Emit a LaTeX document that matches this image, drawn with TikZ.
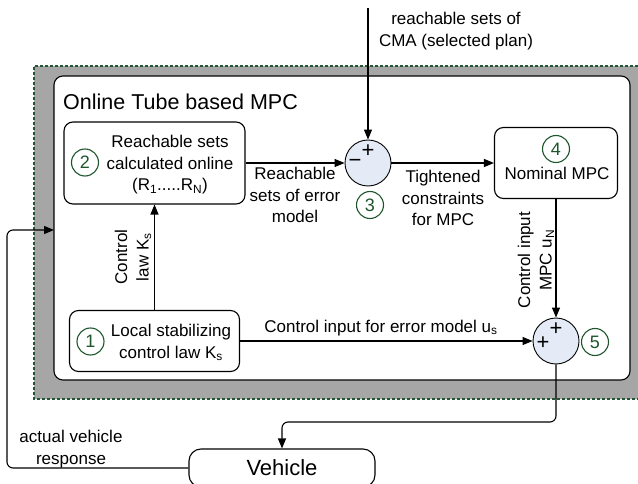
\documentclass[tikz,border=0pt]{standalone}
\usepackage{fontspec}
\setmainfont{Liberation Sans}
\usetikzlibrary{arrows.meta}
\definecolor{tubegray}{RGB}{166,166,166}
\definecolor{numgreen}{RGB}{30,85,45}
\definecolor{sumfill}{RGB}{228,235,247}
\definecolor{borderg}{RGB}{35,85,50}
\begin{document}
\begin{tikzpicture}[x=1pt,y=-1pt,
  txt/.style={font=\fontsize{17}{21.5}\selectfont, align=center, inner sep=0pt},
  blk/.style={draw, rounded corners=9pt, line width=1.1pt, inner sep=0pt},
  num/.style={draw=numgreen, text=numgreen, circle, line width=1.1pt, minimum size=27pt, inner sep=0pt, font=\fontsize{18}{20}\selectfont},
  sumnode/.style={draw, circle, fill=sumfill, minimum size=46pt, inner sep=0pt, line width=0.9pt},
  sign/.style={font=\fontsize{22}{24}\selectfont, inner sep=0pt},
  conn/.style={line width=1.1pt, -{Triangle[length=10pt,width=8pt]}},
  wire/.style={line width=1.1pt}
]
\useasboundingbox (0,0) rectangle (638,484);
% tube region
\fill[tubegray] (34,66) rectangle (648,399);
\draw[borderg, line width=1.6pt, dash pattern=on 3pt off 2pt] (648,66) -- (34,66) -- (34,399) -- (648,399);
\node[draw, fill=white, line width=1.1pt, rounded corners=9pt, minimum width=576pt, minimum height=304pt, inner sep=0pt] (inner) at (342,228) {};
\node[anchor=west, inner sep=0pt, font=\fontsize{21.5}{24}\selectfont] (title) at (63,102) {Online Tube based MPC};
% blocks
\node[blk, minimum width=181pt, minimum height=82pt] (b2) at (154.5,163) {};
\node[txt] (t2) at (170,165) {Reachable sets\\calculated online\\(R\textsubscript{1}.....R\textsubscript{N})};
\node[num] (n2) at (85,162.5) {2};
\node[blk, minimum width=123pt, minimum height=71pt] (b4) at (556,163) {};
\node[num] (n4) at (556,149) {4};
\node[txt] (t4) at (557,173) {Nominal MPC};
\node[blk, minimum width=170pt, minimum height=61pt] (b1) at (154.5,341) {};
\node[num] (n1) at (90.5,341.5) {1};
\node[txt] (t1) at (171,342.5) {Local stabilizing\\control law K\textsubscript{s}};
\node[blk, rounded corners=12pt, minimum width=186pt, minimum height=38pt, font=\fontsize{22}{24}\selectfont] (veh) at (282,468) {Vehicle};
% summing junctions
\node[sumnode] (s3) at (368,163) {};
\node[sign] (s3p) at (368,151) {+};
\node[sign] (s3m) at (355,163) {−};
\node[num] (n3) at (370,205) {3};
\node[sumnode] (s5) at (556,341) {};
\node[sign] (s5p) at (556,329) {+};
\node[sign] (s5q) at (543,343) {+};
\node[num] (n5) at (595,342) {5};
% connectors
\coordinate (topin) at (368,8);
\coordinate (fbin) at (54,230);
\draw[conn] (topin) -- (s3.north);
\draw[conn] (b2.east) -- (s3.west);
\draw[conn] (s3.east) -- (b4.west);
\draw[conn] (b4.south) -- (s5.north);
\draw[conn] (b1.north) -- (b2.south);
\draw[conn] (b1.east) -- (s5.west);
\draw[conn, rounded corners=6pt] (s5.south) -- (556,422) -- (282,422) -- (veh.north);
\draw[conn, rounded corners=6pt] (veh.west) -- (7,468) -- (7,230) -- (fbin);
% labels
\node[txt] (l1) at (456,31) {reachable sets of\\CMA (selected plan)};
\node[txt] (l2) at (295,195) {Reachable\\sets of error\\model};
\node[txt] (l3) at (443,198) {Tightened\\constraints\\for MPC};
\node[txt] (l4) at (381,328) {Control input for error model u\textsubscript{s}};
\node[txt, rotate=90] (l5) at (133,257) {Control\\law K\textsubscript{s}};
\node[txt, rotate=90] (l6) at (536,260) {Control input\\MPC u\textsubscript{N}};
\node[txt] (l7) at (71,449) {actual vehicle\\response};
\end{tikzpicture}
\end{document}
